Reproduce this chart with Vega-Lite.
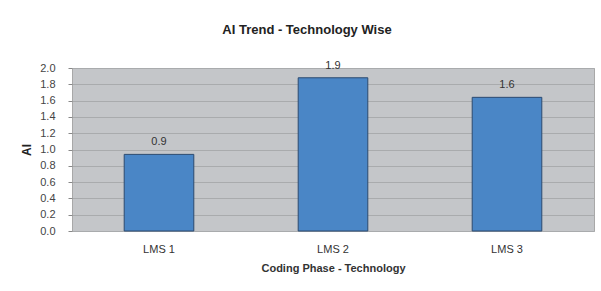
{
  "$schema": "https://vega.github.io/schema/vega-lite/v6.json",
  "autosize": "none",
  "width": 522,
  "height": 163,
  "padding": {"left": 72, "top": 68, "right": 7, "bottom": 60},
  "background": "white",
  "title": {
    "text": "AI Trend - Technology Wise",
    "font": "Liberation Sans",
    "fontSize": 13,
    "fontWeight": "bold",
    "color": "#222222",
    "anchor": "middle",
    "dx": -26,
    "offset": 23
  },
  "config": {
    "view": {"fill": "#c4c6c9", "stroke": "#a8a8a8", "strokeWidth": 1},
    "font": "Liberation Sans"
  },
  "data": {
    "values": [
      {"tech": "LMS 1", "ai": 0.94},
      {"tech": "LMS 2", "ai": 1.88},
      {"tech": "LMS 3", "ai": 1.64}
    ]
  },
  "encoding": {
    "x": {
      "field": "tech",
      "type": "nominal",
      "sort": null,
      "title": "Coding Phase - Technology",
      "scale": {"paddingInner": 0.6, "paddingOuter": 0.3},
      "axis": {
        "labelAngle": 0,
        "labelFont": "Liberation Sans",
        "labelFontSize": 11,
        "labelColor": "#333333",
        "labelPadding": 12,
        "ticks": false,
        "domain": false,
        "titleFont": "Liberation Sans",
        "titleFontSize": 11,
        "titleFontWeight": "bold",
        "titleColor": "#333333",
        "titlePadding": 8
      }
    },
    "y": {
      "field": "ai",
      "type": "quantitative",
      "title": "AI",
      "scale": {"domain": [0, 2]},
      "axis": {
        "values": [0, 0.2, 0.4, 0.6, 0.8, 1.0, 1.2, 1.4, 1.6, 1.8, 2.0],
        "format": ".1f",
        "labelFont": "Liberation Sans",
        "labelFontSize": 11,
        "labelColor": "#444444",
        "labelPadding": 13,
        "tickSize": 4,
        "tickColor": "#888888",
        "domain": false,
        "grid": true,
        "gridColor": "#a9abad",
        "gridWidth": 1,
        "titleFont": "Liberation Sans",
        "titleFontSize": 12,
        "titleFontWeight": "bold",
        "titleColor": "#222222",
        "titlePadding": 6
      }
    }
  },
  "layer": [
    {
      "mark": {"type": "bar", "fill": "#4a86c6", "stroke": "#2c4a70", "strokeWidth": 1}
    },
    {
      "mark": {"type": "text", "baseline": "bottom", "dy": -7, "font": "Liberation Sans", "fontSize": 11, "color": "#333333"},
      "encoding": {
        "text": {"field": "ai", "type": "quantitative", "format": ".1f"}
      }
    }
  ]
}
